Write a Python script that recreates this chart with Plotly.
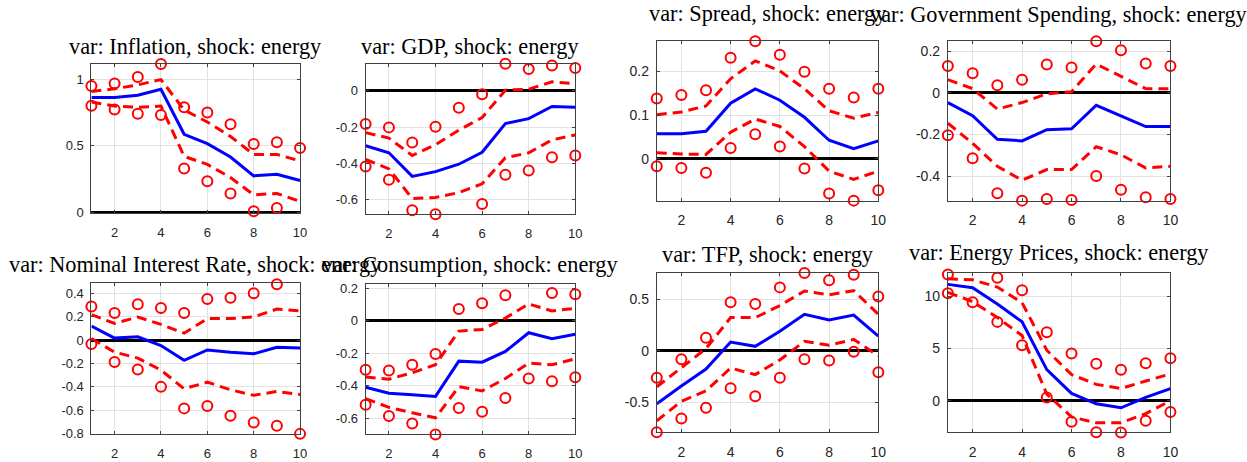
import plotly.graph_objects as go

W, H = 1247, 462

horizon = list(range(1, 11))

# ---------------- data ----------------
inflation_median = [0.865, 0.865, 0.882, 0.926, 0.587, 0.516, 0.415, 0.273, 0.285, 0.238]
inflation_hi68 = [0.91, 0.93, 0.96, 1.0, 0.77, 0.68, 0.57, 0.435, 0.435, 0.385]
inflation_lo68 = [0.83, 0.80, 0.79, 0.80, 0.42, 0.36, 0.26, 0.13, 0.14, 0.08]
inflation_hi90 = [0.951, 0.97, 1.02, 1.118, 0.791, 0.752, 0.663, 0.514, 0.526, 0.484]
inflation_lo90 = [0.803, 0.774, 0.742, 0.732, 0.329, 0.233, 0.14, 0.005, 0.03, -0.015]

gdp_median = [-0.302, -0.341, -0.471, -0.445, -0.404, -0.338, -0.18, -0.153, -0.086, -0.09]
gdp_hi68 = [-0.23, -0.26, -0.356, -0.296, -0.216, -0.147, 0.004, 0.009, 0.05, 0.04]
gdp_lo68 = [-0.377, -0.43, -0.593, -0.587, -0.56, -0.512, -0.368, -0.341, -0.27, -0.243]
gdp_hi90 = [-0.183, -0.201, -0.284, -0.198, -0.093, -0.018, 0.149, 0.12, 0.14, 0.126]
gdp_lo90 = [-0.417, -0.49, -0.657, -0.679, -0.683, -0.623, -0.462, -0.438, -0.365, -0.356]

spread_median = [0.0575, 0.0575, 0.063, 0.127, 0.160, 0.134, 0.095, 0.0425, 0.023, 0.041]
spread_hi68 = [0.101, 0.107, 0.121, 0.183, 0.224, 0.201, 0.160, 0.11, 0.093, 0.106]
spread_lo68 = [0.014, 0.011, 0.010, 0.061, 0.091, 0.074, 0.028, -0.028, -0.047, -0.028]
spread_hi90 = [0.138, 0.146, 0.157, 0.231, 0.269, 0.238, 0.199, 0.160, 0.140, 0.160]
spread_lo90 = [-0.017, -0.021, -0.032, 0.025, 0.056, 0.028, -0.022, -0.079, -0.0955, -0.072]

gov_median = [-0.047, -0.11, -0.223, -0.231, -0.177, -0.173, -0.06, -0.11, -0.162, -0.162]
gov_hi68 = [0.063, 0.02, -0.078, -0.047, -0.005, 0.005, 0.138, 0.078, 0.02, 0.019]
gov_lo68 = [-0.146, -0.243, -0.353, -0.42, -0.369, -0.369, -0.259, -0.298, -0.361, -0.353]
gov_hi90 = [0.129, 0.094, 0.036, 0.063, 0.136, 0.122, 0.248, 0.204, 0.141, 0.129]
gov_lo90 = [-0.204, -0.314, -0.483, -0.518, -0.51, -0.515, -0.4, -0.466, -0.502, -0.51]

rate_median = [0.12, 0.017, 0.028, -0.047, -0.173, -0.084, -0.103, -0.117, -0.061, -0.067]
rate_hi68 = [0.218, 0.142, 0.198, 0.134, 0.059, 0.184, 0.184, 0.198, 0.265, 0.251]
rate_lo68 = [0.014, -0.103, -0.154, -0.257, -0.416, -0.36, -0.425, -0.472, -0.439, -0.466]
rate_hi90 = [0.288, 0.232, 0.307, 0.274, 0.232, 0.352, 0.363, 0.4, 0.478, 0.492]
rate_lo90 = [-0.034, -0.187, -0.251, -0.4, -0.584, -0.564, -0.648, -0.704, -0.732, -0.802]

cons_median = [-0.41, -0.446, -0.456, -0.466, -0.249, -0.255, -0.189, -0.074, -0.111, -0.084]
cons_hi68 = [-0.346, -0.36, -0.32, -0.271, -0.064, -0.054, 0.016, 0.103, 0.06, 0.076]
cons_lo68 = [-0.48, -0.533, -0.567, -0.597, -0.406, -0.432, -0.356, -0.261, -0.271, -0.235]
cons_hi90 = [-0.302, -0.306, -0.271, -0.205, 0.072, 0.107, 0.157, 0.231, 0.171, 0.163]
cons_lo90 = [-0.517, -0.587, -0.633, -0.70, -0.537, -0.561, -0.476, -0.356, -0.372, -0.348]

tfp_median = [-0.517, -0.343, -0.178, 0.086, 0.044, 0.19, 0.356, 0.302, 0.349, 0.143]
tfp_hi68 = [-0.352, -0.168, 0.022, 0.324, 0.324, 0.441, 0.584, 0.546, 0.587, 0.356]
tfp_lo68 = [-0.683, -0.492, -0.39, -0.168, -0.232, -0.089, 0.092, 0.054, 0.111, -0.048]
tfp_hi90 = [-0.263, -0.083, 0.127, 0.473, 0.457, 0.619, 0.759, 0.689, 0.743, 0.53]
tfp_lo90 = [-0.794, -0.66, -0.556, -0.365, -0.444, -0.263, -0.083, -0.095, -0.01, -0.21]

energy_median = [11.16, 10.84, 9.28, 7.56, 2.97, 0.69, -0.31, -0.69, 0.31, 1.16]
energy_hi68 = [11.7, 11.6, 10.9, 9.4, 4.84, 2.5, 1.56, 1.16, 1.88, 2.56]
energy_lo68 = [10.4, 9.5, 7.97, 6.25, 0.63, -1.56, -2.13, -2.13, -1.25, 0.0]
energy_hi90 = [12.1, 12.3, 11.8, 10.6, 6.56, 4.53, 3.53, 2.97, 3.59, 4.06]
energy_lo90 = [10.3, 9.44, 7.56, 5.31, 0.31, -2.03, -3.03, -3.06, -1.94, -1.09]

titles = [
    "var: Inflation, shock: energy",
    "var: GDP, shock: energy",
    "var: Spread, shock: energy",
    "var: Government Spending, shock: energy",
    "var: Nominal Interest Rate, shock: energy",
    "var: Consumption, shock: energy",
    "var: TFP, shock: energy",
    "var: Energy Prices, shock: energy",
]

panels = [
    (inflation_median, inflation_hi68, inflation_lo68, inflation_hi90, inflation_lo90),
    (gdp_median, gdp_hi68, gdp_lo68, gdp_hi90, gdp_lo90),
    (spread_median, spread_hi68, spread_lo68, spread_hi90, spread_lo90),
    (gov_median, gov_hi68, gov_lo68, gov_hi90, gov_lo90),
    (rate_median, rate_hi68, rate_lo68, rate_hi90, rate_lo90),
    (cons_median, cons_hi68, cons_lo68, cons_hi90, cons_lo90),
    (tfp_median, tfp_hi68, tfp_lo68, tfp_hi90, tfp_lo90),
    (energy_median, energy_hi68, energy_lo68, energy_hi90, energy_lo90),
]

y_ranges = [
    [-0.01, 1.12], [-0.68, 0.15], [-0.0955, 0.269], [-0.518, 0.248],
    [-0.807, 0.49], [-0.70, 0.227], [-0.797, 0.759], [-3.06, 12.25],
]
y_ticks = [
    [0, 0.5, 1], [-0.6, -0.4, -0.2, 0], [0, 0.1, 0.2], [-0.4, -0.2, 0, 0.2],
    [-0.8, -0.6, -0.4, -0.2, 0, 0.2, 0.4], [-0.6, -0.4, -0.2, 0, 0.2],
    [-0.5, 0, 0.5], [0, 5, 10],
]
y_ticktext = [
    ["0", "0.5", "1"], ["-0.6", "-0.4", "-0.2", "0"], ["0", "0.1", "0.2"],
    ["-0.4", "-0.2", "0", "0.2"],
    ["-0.8", "-0.6", "-0.4", "-0.2", "0", "0.2", "0.4"],
    ["-0.6", "-0.4", "-0.2", "0", "0.2"], ["-0.5", "0", "0.5"], ["0", "5", "10"],
]
x_ticks = [2, 4, 6, 8, 10]

# ---------------- layout geometry (pixels) ----------------
# (left, right, top, bottom)
boxes = [
    (92, 302, 62, 215), (368, 579, 62, 216), (661, 884, 39, 202), (954, 1178, 39, 202),
    (92, 302, 286, 441), (368, 579, 287, 441), (661, 884, 276, 439), (954, 1178, 276, 439),
]
title_y = [44, 44, 11, 12, 267, 267.5, 257, 255]
tick_sizes = [13, 13, 14, 14, 13, 13, 14, 14]

fig = go.Figure()
AX = "#404040"
GRID = "#e2e2e2"
annotations = []

for i, (data, box) in enumerate(zip(panels, boxes)):
    med, hi68, lo68, hi90, lo90 = data
    sfx = "" if i == 0 else str(i + 1)
    xa, ya = "x" + sfx, "y" + sfx
    for series in (hi90, lo90):
        fig.add_trace(go.Scatter(
            x=horizon, y=series, xaxis=xa, yaxis=ya, mode="markers",
            marker=dict(symbol="circle-open", size=10, color="#ff0000",
                        line=dict(width=2, color="#ff0000")),
            cliponaxis=False, showlegend=False, hoverinfo="skip"))
    for series in (hi68, lo68):
        fig.add_trace(go.Scatter(
            x=horizon, y=series, xaxis=xa, yaxis=ya, mode="lines",
            line=dict(color="#ff0000", width=3, dash="10px,6px"),
            cliponaxis=False, showlegend=False, hoverinfo="skip"))
    fig.add_trace(go.Scatter(
        x=horizon, y=med, xaxis=xa, yaxis=ya, mode="lines",
        line=dict(color="#0000ff", width=3),
        cliponaxis=False, showlegend=False, hoverinfo="skip"))

    l, r, t, b = box
    common = dict(showline=True, linecolor=AX, linewidth=1, mirror="allticks",
                  ticks="inside", ticklen=3, tickcolor=AX,
                  showgrid=True, gridcolor=GRID, gridwidth=1,
                  tickfont=dict(family="Liberation Sans, Arial, sans-serif",
                                size=tick_sizes[i], color="#262626"))
    fig.layout["xaxis" + sfx] = dict(
        domain=[l / W, r / W], anchor=ya, range=[1, 10],
        tickvals=x_ticks, ticktext=[str(v) for v in x_ticks],
        zeroline=False, ticklabelstandoff=7, **common)
    fig.layout["yaxis" + sfx] = dict(
        domain=[1 - b / H, 1 - t / H], anchor=xa, range=y_ranges[i],
        tickvals=y_ticks[i], ticktext=y_ticktext[i],
        zeroline=True, zerolinecolor="#000000", zerolinewidth=2.5,
        ticklabelstandoff=4, **common)
    annotations.append(dict(
        text=titles[i], xref="paper", yref="paper",
        x=(l + r) / 2 / W, y=1 - title_y[i] / H,
        xanchor="center", yanchor="middle", showarrow=False,
        font=dict(family="Liberation Serif, Times New Roman, serif",
                  size=22.3, color="#000000")))

fig.update_layout(
    width=W, height=H, margin=dict(l=0, r=0, t=0, b=0),
    paper_bgcolor="#ffffff", plot_bgcolor="#ffffff",
    annotations=annotations, showlegend=False)

fig.write_html("out.html")
